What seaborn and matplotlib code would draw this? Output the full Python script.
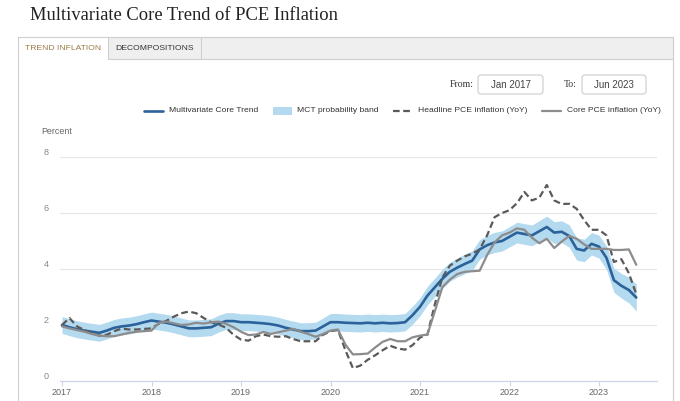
import numpy as np
import pandas as pd
import matplotlib
matplotlib.use("Agg")
import matplotlib.pyplot as plt
from matplotlib.patches import Rectangle, FancyBboxPatch
from matplotlib.lines import Line2D
import seaborn as sns

# monthly observations, Jan 2017 - Jun 2023
months = pd.date_range("2017-01-01", "2023-06-01", freq="MS")

mct = [2.00, 1.92, 1.85, 1.80, 1.76, 1.72, 1.80, 1.90, 1.95, 1.98, 2.03, 2.10,
       2.16, 2.12, 2.08, 2.02, 1.95, 1.88, 1.88, 1.90, 1.92, 2.05, 2.14, 2.14,
       2.10, 2.10, 2.08, 2.06, 2.03, 1.98, 1.90, 1.84, 1.78, 1.78, 1.80, 1.95,
       2.10, 2.10, 2.08, 2.07, 2.06, 2.08, 2.06, 2.08, 2.06, 2.07, 2.10, 2.35,
       2.65, 3.05, 3.35, 3.65, 3.90, 4.05, 4.18, 4.30, 4.70, 4.85, 4.95, 5.00,
       5.15, 5.30, 5.25, 5.20, 5.35, 5.50, 5.30, 5.33, 5.18, 4.72, 4.66, 4.90,
       4.80, 4.40, 3.60, 3.40, 3.25, 2.98]

band_half = [0.30, 0.30, 0.30, 0.30, 0.30, 0.30, 0.30, 0.30, 0.30, 0.30, 0.30, 0.30,
             0.30, 0.30, 0.30, 0.30, 0.30, 0.30, 0.30, 0.30, 0.30, 0.30, 0.30, 0.30,
             0.30, 0.30, 0.30, 0.30, 0.30, 0.30, 0.30, 0.30, 0.30, 0.30, 0.30, 0.30,
             0.31, 0.31, 0.31, 0.31, 0.31, 0.31, 0.31, 0.31, 0.31, 0.31, 0.31, 0.32,
             0.32, 0.33, 0.33, 0.34, 0.34, 0.34, 0.35, 0.35, 0.35, 0.35, 0.36, 0.36,
             0.36, 0.37, 0.37, 0.37, 0.38, 0.39, 0.39, 0.39, 0.40, 0.40, 0.40, 0.40,
             0.41, 0.42, 0.43, 0.44, 0.46, 0.48]

headline = [2.00, 2.25, 1.95, 1.82, 1.70, 1.62, 1.65, 1.78, 1.87, 1.84, 1.84, 1.86,
            1.88, 2.05, 2.15, 2.30, 2.42, 2.48, 2.42, 2.25, 2.10, 2.02, 1.90, 1.65,
            1.48, 1.44, 1.60, 1.66, 1.60, 1.58, 1.60, 1.50, 1.42, 1.42, 1.42, 1.65,
            1.78, 1.82, 1.10, 0.46, 0.55, 0.76, 0.92, 1.10, 1.26, 1.16, 1.12, 1.28,
            1.55, 1.66, 2.75, 3.70, 4.12, 4.30, 4.45, 4.55, 4.70, 5.20, 5.85, 6.00,
            6.10, 6.35, 6.75, 6.45, 6.55, 7.00, 6.45, 6.32, 6.33, 6.15, 5.75, 5.40,
            5.40, 5.20, 4.25, 4.35, 3.85, 3.10]

core = [1.95, 1.88, 1.82, 1.76, 1.68, 1.62, 1.60, 1.60, 1.66, 1.72, 1.76, 1.78,
        1.80, 2.08, 2.12, 2.06, 2.00, 2.02, 2.08, 2.05, 2.10, 2.12, 2.04, 1.92,
        1.76, 1.64, 1.66, 1.75, 1.68, 1.74, 1.80, 1.86, 1.76, 1.68, 1.58, 1.68,
        1.80, 1.84, 1.30, 0.95, 0.96, 0.98, 1.20, 1.40, 1.50, 1.42, 1.42, 1.56,
        1.62, 1.66, 2.50, 3.35, 3.62, 3.82, 3.90, 3.92, 3.94, 4.50, 4.95, 5.20,
        5.30, 5.45, 5.40, 5.12, 4.92, 5.08, 4.75, 4.98, 5.18, 5.08, 4.88, 4.72,
        4.72, 4.72, 4.68, 4.68, 4.70, 4.15]

year_ticks = [2017, 2018, 2019, 2020, 2021, 2022, 2023]
y_ticks = [0, 2, 4, 6, 8]
legend_labels = ["Multivariate Core Trend", "MCT probability band",
                 "Headline PCE inflation (YoY)", "Core PCE inflation (YoY)"]

df = pd.DataFrame({
    "t": months.year + (months.month - 1) / 12,
    "mct": mct,
    "headline": headline,
    "core": core,
})
df["lo"] = df["mct"] - np.array(band_half)
df["hi"] = df["mct"] + np.array(band_half)

sns.set_theme(style="white")
plt.rcParams["font.family"] = ["Liberation Sans", "DejaVu Sans"]

blue = "#2b6299"
band_col = "#b4daf0"
dark_grey = "#5a5a5a"
grey = "#8c8c8c"
axis_col = "#ccd6eb"

fig = plt.figure(figsize=(6.8, 4.01), dpi=100)

# page furniture drawn in pixel coordinates
bg = fig.add_axes([0, 0, 1, 1])
bg.set_xlim(0, 680)
bg.set_ylim(401, 0)
bg.axis("off")

bg.text(30, 16, "Multivariate Core Trend of PCE Inflation", family="Liberation Serif",
        fontsize=13.3, color="#222222", va="center", ha="left")

# panel + tabs
bg.add_patch(Rectangle((18, 37), 655, 22, facecolor="#efefef", edgecolor="none"))
bg.add_patch(Rectangle((18, 37), 90, 22, facecolor="white", edgecolor="none"))
bg.plot([18, 673], [37, 37], color="#cfcfcf", lw=0.8)
bg.plot([18, 18], [37, 401], color="#cfcfcf", lw=0.8)
bg.plot([673, 673], [37, 401], color="#cfcfcf", lw=0.8)
bg.plot([108, 108], [37, 59], color="#cfcfcf", lw=0.8)
bg.plot([201, 201], [37, 59], color="#cfcfcf", lw=0.8)
bg.plot([108, 673], [59, 59], color="#cfcfcf", lw=0.8)
bg.text(63, 48.5, "TREND INFLATION", fontsize=6.1, color="#9a7a45", ha="center", va="center")
bg.text(154.5, 48.5, "DECOMPOSITIONS", fontsize=6.1, color="#333333", ha="center", va="center")

# date range boxes
bg.text(474, 84.5, "From:", family="Liberation Serif", fontsize=7, color="#333333",
        ha="right", va="center")
bg.add_patch(FancyBboxPatch((478, 75), 65, 19, boxstyle="round,pad=0,rounding_size=3",
                            facecolor="white", edgecolor="#cccccc", lw=0.8))
bg.text(510.5, 84.5, "Jan 2017", fontsize=7, color="#444444", ha="center", va="center")
bg.text(577, 84.5, "To:", family="Liberation Serif", fontsize=7, color="#333333",
        ha="right", va="center")
bg.add_patch(FancyBboxPatch((582, 75), 64, 19, boxstyle="round,pad=0,rounding_size=3",
                            facecolor="white", edgecolor="#cccccc", lw=0.8))
bg.text(614, 84.5, "Jun 2023", fontsize=7, color="#444444", ha="center", va="center")

# legend
ly = 111
bg.add_line(Line2D([144, 163], [ly, ly], color=blue, lw=1.9))
bg.text(169, ly, legend_labels[0], fontsize=6.1, color="#333333", va="center")
bg.add_patch(Rectangle((273, ly - 4), 19, 8, facecolor=band_col, edgecolor="none"))
bg.text(297, ly, legend_labels[1], fontsize=6.1, color="#333333", va="center")
bg.add_line(Line2D([393, 413], [ly, ly], color=dark_grey, lw=1.6, linestyle=(0, (3, 1.6))))
bg.text(418, ly, legend_labels[2], fontsize=6.1, color="#333333", va="center")
bg.add_line(Line2D([542, 561], [ly, ly], color=grey, lw=1.6))
bg.text(567, ly, legend_labels[3], fontsize=6.1, color="#333333", va="center")

bg.text(41, 131, "Percent", fontsize=6.4, color="#666666", va="center")

# chart
ax = fig.add_axes([60 / 680, 1 - 381 / 401, (657 - 60) / 680, (381 - 157) / 401])
ax.set_xlim(2017 + (60 - 62) / 89.5, 2017 + (657 - 62) / 89.5)
ax.set_ylim(0, 8)
ax.patch.set_alpha(0)

ax.fill_between(df["t"], df["lo"], df["hi"], color=band_col, lw=0, zorder=1)
sns.lineplot(data=df, x="t", y="mct", ax=ax, color=blue, lw=1.9, zorder=3)
sns.lineplot(data=df, x="t", y="headline", ax=ax, color=dark_grey, lw=1.6,
             linestyle=(0, (3, 1.6)), zorder=4)
sns.lineplot(data=df, x="t", y="core", ax=ax, color=grey, lw=1.6, zorder=5)

ax.set_xlabel("")
ax.set_ylabel("")
ax.set_xticks(year_ticks)
ax.set_xticklabels([str(y) for y in year_ticks])
ax.set_yticks(y_ticks)
ax.set_yticklabels([str(v) for v in y_ticks])
for lbl in ax.get_yticklabels():
    lbl.set_va("bottom")

ax.grid(axis="y", color="#e6e6e6", lw=0.8)
ax.grid(axis="x", visible=False)
ax.set_axisbelow(True)
for side in ["top", "right", "left"]:
    ax.spines[side].set_visible(False)
ax.spines["bottom"].set_color(axis_col)
ax.spines["bottom"].set_linewidth(0.9)
ax.tick_params(axis="x", direction="out", length=3.6, width=0.8, color=axis_col,
               labelsize=6.5, labelcolor="#666666", pad=1.5, bottom=True)
ax.tick_params(axis="y", length=0, labelsize=6.5, labelcolor="#888888", pad=8)

fig.savefig("out.png", dpi=100)
